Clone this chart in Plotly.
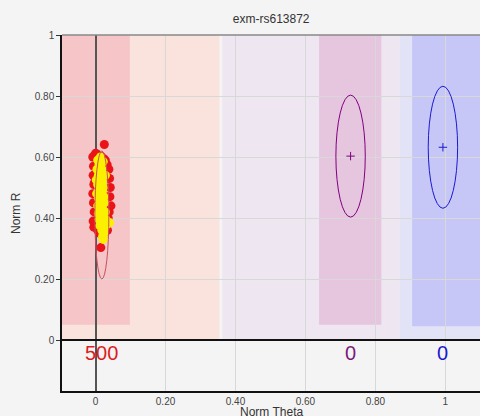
import plotly.graph_objects as go

# ---------------- data ----------------
title_text = "exm-rs613872"

# cluster (genotype) summary
cluster_theta = [0.018, 0.729, 0.993]
cluster_r = [0.41, 0.603, 0.632]
cluster_sd_theta = [0.020, 0.042, 0.042]
cluster_sd_r = [0.21, 0.20, 0.20]
cluster_counts = ["500", "0", "0"]
cluster_colors = ["#c8505e", "#800080", "#1a1ad0"]
count_colors = ["#dd1c1c", "#7a1a7a", "#1a1ad0"]

# shaded call regions: x0, x1, y0, y1
region_x0 = [-0.096, -0.096, 0.362, 0.639, 0.869, 0.905]
region_x1 = [0.354, 0.098, 0.869, 0.817, 1.099, 1.099]
region_y0 = [0.0, 0.05, 0.0, 0.05, 0.0, 0.045]
region_y1 = [1.0, 1.0, 1.0, 1.0, 1.0, 1.0]
region_colors = ["#fae3dd", "#f5c5c7", "#eee6f0", "#e6c5df", "#e3e3f8", "#c7c7f7"]

# samples (red) and highlighted samples (yellow)
red_theta = [-0.008, -0.006, -0.007, -0.005, -0.008, -0.006, -0.004, -0.007, -0.005, -0.003,
             0.000, 0.004, 0.010, 0.016, 0.022, 0.028, 0.033, 0.038, 0.040, 0.042,
             0.041, 0.044, 0.039, 0.036, 0.034, 0.030, 0.026, 0.022, 0.018, 0.024,
             0.030, 0.034, 0.028, 0.012, 0.006, 0.002, 0.025, 0.015, 0.020, 0.008,
             -0.002, 0.014, 0.036, 0.031]
red_r = [0.600, 0.570, 0.540, 0.510, 0.480, 0.450, 0.420, 0.390, 0.370, 0.605,
         0.612, 0.610, 0.598, 0.602, 0.595, 0.590, 0.575, 0.560, 0.530, 0.500,
         0.470, 0.440, 0.420, 0.400, 0.385, 0.405, 0.395, 0.410, 0.390, 0.415,
         0.380, 0.360, 0.355, 0.350, 0.360, 0.380, 0.641, 0.303, 0.445, 0.470,
         0.520, 0.560, 0.530, 0.470]

yellow_theta = [0.006, 0.010, 0.004, 0.012, 0.008, 0.002, 0.014, 0.006, 0.010, 0.003,
                0.016, 0.012, 0.018, 0.008, 0.014, 0.020, 0.010, 0.016, 0.022, 0.012,
                0.006, 0.018, 0.024, 0.014, 0.008, 0.020, 0.026, 0.016, 0.010, 0.022,
                0.028, 0.018, 0.012, 0.024, 0.030, 0.020, 0.022, 0.026, 0.034, 0.040,
                0.018, 0.022, 0.028, 0.014, 0.020]
yellow_r = [0.590, 0.575, 0.560, 0.555, 0.540, 0.525, 0.530, 0.510, 0.495, 0.480,
            0.575, 0.505, 0.545, 0.465, 0.480, 0.520, 0.445, 0.455, 0.500, 0.425,
            0.440, 0.430, 0.470, 0.400, 0.415, 0.405, 0.450, 0.380, 0.395, 0.370,
            0.420, 0.360, 0.375, 0.350, 0.395, 0.340, 0.330, 0.365, 0.380, 0.385,
            0.560, 0.585, 0.540, 0.600, 0.490]

tick_vals_x = [0, 0.2, 0.4, 0.6, 0.8, 1]
tick_text_x = ["0", "0.20", "0.40", "0.60", "0.80", "1"]
tick_vals_y = [0, 0.2, 0.4, 0.6, 0.8, 1]
tick_text_y = ["0", "0.20", "0.40", "0.60", "0.80", "1"]

x_range = [-0.096, 1.099]
y_range = [-0.167, 1.0]

FONT = "Liberation Sans, Arial, sans-serif"

fig = go.Figure()

# ellipses
for cx, cy, sx, sy, col in zip(cluster_theta, cluster_r, cluster_sd_theta, cluster_sd_r, cluster_colors):
    fig.add_shape(type="circle", xref="x", yref="y",
                  x0=cx - sx, x1=cx + sx, y0=cy - sy, y1=cy + sy,
                  line=dict(color=col, width=1), layer="above")

fig.add_trace(go.Scatter(x=red_theta, y=red_r, mode="markers",
                         marker=dict(color="#ea1418", size=9, line=dict(width=0)),
                         hoverinfo="skip", showlegend=False))
fig.add_trace(go.Scatter(x=yellow_theta, y=yellow_r, mode="markers",
                         marker=dict(color="#fbf000", size=9, line=dict(width=0)),
                         hoverinfo="skip", showlegend=False))

# centre crosses for empty clusters
fig.add_trace(go.Scatter(x=cluster_theta[1:], y=cluster_r[1:], mode="markers",
                         marker=dict(symbol="cross-thin", size=6,
                                     line=dict(width=1, color=cluster_colors[1:])),
                         hoverinfo="skip", showlegend=False))

# regions
for x0, x1, y0, y1, c in zip(region_x0, region_x1, region_y0, region_y1, region_colors):
    fig.add_shape(type="rect", xref="x", yref="y", x0=x0, x1=x1, y0=y0, y1=y1,
                  fillcolor=c, line=dict(width=0), layer="below")

# top border (gray)
fig.add_shape(type="line", xref="paper", yref="paper", x0=0, x1=1, y0=1, y1=1,
              line=dict(color="#888888", width=1.5))

# counts
for cx, txt, col in zip(cluster_theta, cluster_counts, count_colors):
    fig.add_annotation(x=cx, y=-0.042, xref="x", yref="y", text=txt, showarrow=False,
                       font=dict(size=20, color=col, family=FONT),
                       xanchor="center", yanchor="middle")

# axis titles
fig.add_annotation(x=0.5, y=-0.059, xref="paper", yref="paper", text="Norm Theta",
                   showarrow=False, font=dict(size=12, color="#333333", family=FONT),
                   xanchor="center", yanchor="middle")
fig.add_annotation(x=-0.11, y=0.5, xref="paper", yref="paper", text="Norm R",
                   showarrow=False, textangle=-90,
                   font=dict(size=12, color="#333333", family=FONT),
                   xanchor="center", yanchor="middle")

fig.update_layout(
    width=480, height=416,
    margin=dict(l=62, r=0, t=35, b=25),
    paper_bgcolor="#f4f4f4", plot_bgcolor="#f4f4f4",
    title=dict(text=title_text, x=0.565, xref="container", y=1 - 19 / 416,
               yref="container", xanchor="center", yanchor="middle",
               font=dict(size=12, color="#333333", family=FONT)),
    showlegend=False,
    xaxis=dict(range=x_range, tickvals=tick_vals_x, ticktext=tick_text_x,
               showgrid=True, gridcolor="#d8d8d8", gridwidth=1,
               zeroline=True, zerolinecolor="#555555", zerolinewidth=1.5,
               showline=True, linecolor="#111111", linewidth=1.5,
               ticks="", tickfont=dict(size=10, color="#444444", family=FONT),
               automargin=False, fixedrange=True),
    yaxis=dict(range=y_range, tickvals=tick_vals_y, ticktext=tick_text_y,
               showgrid=True, gridcolor="#d8d8d8", gridwidth=1,
               zeroline=True, zerolinecolor="#111111", zerolinewidth=1.5,
               showline=True, linecolor="#111111", linewidth=1.5,
               ticks="outside", ticklen=4, tickcolor="#333333",
               tickfont=dict(size=10, color="#444444", family=FONT),
               automargin=False, fixedrange=True),
)

fig.write_html("out.html", config={"displayModeBar": False},
               post_script="document.body.style.margin='0';document.body.style.padding='0';")
